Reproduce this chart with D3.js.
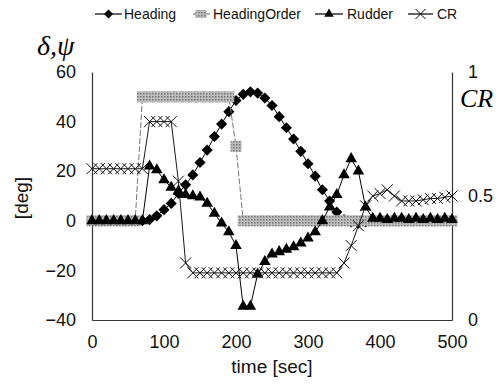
<!DOCTYPE html>
<html>
<head>
<meta charset="utf-8">
<script src="https://cdn.jsdelivr.net/npm/d3@7"></script>
<style>
  body { margin: 0; background: #fff; }
</style>
</head>
<body>
<script>
// time samples [sec]
const time = [0, 10, 20, 30, 40, 50, 60, 70, 80, 90,
  100, 110, 120, 130, 140, 150, 160, 170, 180, 190,
  200, 210, 220, 230, 240, 250, 260, 270, 280, 290,
  300, 310, 320, 330, 340, 350, 360, 370, 380, 390,
  400, 410, 420, 430, 440, 450, 460, 470, 480, 490, 500];

// heading [deg]
const heading = [0, 0, 0, 0, 0, 0, 0, 0, 0.5, 2,
  4.5, 7, 11, 14.5, 18.5, 23.5, 28.5, 34, 39, 44,
  48.5, 51, 52, 51.5, 49.5, 46.5, 42, 37.5, 33, 28,
  23, 18, 12.5, 8, 3.5, 0.5, -0.5, -1, -0.5, 0,
  0, 0, 0, 0, 0, 0, 0, 0, 0, 0, 0];

// heading order [deg]
const headingOrder = [0, 0, 0, 0, 0, 0, 0, 50, 50, 50,
  50, 50, 50, 50, 50, 50, 50, 50, 50, 50,
  30, 0, 0, 0, 0, 0, 0, 0, 0, 0,
  0, 0, 0, 0, 0, 0, 0, 0, 0, 0,
  0, 0, 0, 0, 0, 0, 0, 0, 0, 0, 0];

// rudder [deg]
const rudder = [0, 0, 0, 0, 0, 0, 0, 0, 22, 20.5,
  16.5, 13.5, 12, 10.5, 10, 9.5, 7, 3, -1, -4.5,
  -10, -34.5, -34.5, -21.5, -16.5, -13.5, -12.5, -11.5, -10.5, -9,
  -7, -4.5, 0, 5.5, 10.5, 18.5, 25, 20, 5.5, 1,
  1, 0.5, 1, 1, 0.5, 1, 0.5, 1, 0.5, 1, 0.5];

// CR (right axis, 0..1)
const cr = [0.61, 0.61, 0.61, 0.61, 0.61, 0.61, 0.61, 0.61, 0.8, 0.8,
  0.8, 0.8, 0.56, 0.23, 0.19, 0.19, 0.19, 0.19, 0.19, 0.19,
  0.19, 0.19, 0.19, 0.19, 0.19, 0.19, 0.19, 0.19, 0.19, 0.19,
  0.19, 0.19, 0.19, 0.19, 0.19, 0.23, 0.3, 0.38, 0.46, 0.5,
  0.51, 0.525, 0.5, 0.48, 0.48, 0.48, 0.485, 0.49, 0.49, 0.495, 0.5];

const xTicks = [0, 100, 200, 300, 400, 500];
const yTicks = [-40, -20, 0, 20, 40, 60];
const crTicks = [0, 0.5, 1];

const W = 501, H = 387;
const sans = "'Liberation Sans', Arial, sans-serif";
const serif = "'Liberation Serif', 'Times New Roman', serif";
let margin = {top: 72, right: 49, bottom: 67, left: 92};
let width = W - margin.left - margin.right,
    height = H - margin.top - margin.bottom;

let svg = d3.select("body").append("svg")
    .attr("width", W)
    .attr("height", H)
    .style("font-family", sans);

// hatched gray fill used by the HeadingOrder markers
let pat = svg.append("defs").append("pattern")
    .attr("id", "hatch")
    .attr("width", 3).attr("height", 3)
    .attr("patternUnits", "userSpaceOnUse");
pat.append("rect").attr("width", 3).attr("height", 3).attr("fill", "#bdbdbd");
pat.append("rect").attr("width", 1.5).attr("height", 1.5).attr("fill", "#737373");

let g = svg.append("g")
    .attr("transform", "translate(" + margin.left + "," + margin.top + ")");

let x = d3.scaleLinear().domain([0, 500]).range([0, width]);
let y = d3.scaleLinear().domain([-40, 60]).range([height, 0]);
let yR = d3.scaleLinear().domain([0, 1]).range([height, 0]);

// axes
let xAxis = g.append("g")
    .attr("transform", "translate(0," + height + ")")
    .call(d3.axisBottom(x).tickValues(xTicks).tickSize(0).tickPadding(15));
let yAxis = g.append("g")
    .call(d3.axisLeft(y).tickValues(yTicks).tickSize(0).tickPadding(16));
let rAxis = g.append("g")
    .attr("transform", "translate(" + width + ",0)")
    .call(d3.axisRight(yR).tickValues(crTicks).tickFormat(d3.format("")).tickSize(0).tickPadding(16));

[xAxis, yAxis, rAxis].forEach(a => {
  a.select(".domain").attr("stroke", "#333").attr("stroke-width", 1.2);
  a.selectAll("text").attr("fill", "#111")
    .style("font-size", "18px").style("font-family", sans);
});

const pts = (vals, scale) => time.map((t, i) => [x(t), scale(vals[i])]);
let line = d3.line();

// Heading
g.append("path")
    .attr("d", line(pts(heading, y)))
    .attr("fill", "none").attr("stroke", "#000").attr("stroke-width", 1);
g.selectAll(".hd")
    .data(pts(heading, y))
    .enter().append("path")
    .attr("d", d3.symbol(d3.symbolSquare, 62)())
    .attr("transform", d => "translate(" + d[0] + "," + d[1] + ") rotate(45)")
    .attr("fill", "#000");

// HeadingOrder
g.append("path")
    .attr("d", line(pts(headingOrder, y)))
    .attr("fill", "none").attr("stroke", "#777").attr("stroke-width", 1)
    .attr("stroke-dasharray", "6,2");
g.selectAll(".ho")
    .data(pts(headingOrder, y))
    .enter().append("rect")
    .attr("x", d => d[0] - 5.5).attr("y", d => d[1] - 5.5)
    .attr("width", 11).attr("height", 11)
    .attr("fill", "url(#hatch)");

// Rudder
g.append("path")
    .attr("d", line(pts(rudder, y)))
    .attr("fill", "none").attr("stroke", "#000").attr("stroke-width", 1);
g.selectAll(".rd")
    .data(pts(rudder, y))
    .enter().append("path")
    .attr("d", d3.symbol(d3.symbolTriangle, 58)())
    .attr("transform", d => "translate(" + d[0] + "," + d[1] + ")")
    .attr("fill", "#000");

// CR
const crossPath = "M-5.5,-5.5L5.5,5.5M-5.5,5.5L5.5,-5.5";
g.append("path")
    .attr("d", line(pts(cr, yR)))
    .attr("fill", "none").attr("stroke", "#000").attr("stroke-width", 0.9);
g.selectAll(".cr")
    .data(pts(cr, yR))
    .enter().append("path")
    .attr("d", crossPath)
    .attr("transform", d => "translate(" + d[0] + "," + d[1] + ")")
    .attr("fill", "none").attr("stroke", "#111").attr("stroke-width", 1);

// axis titles
svg.append("text")
    .attr("x", margin.left + width / 2).attr("y", 373)
    .attr("text-anchor", "middle")
    .attr("fill", "#111")
    .style("font-size", "19px")
    .text("time [sec]");
svg.append("text")
    .attr("transform", "translate(28,198) rotate(-90)")
    .attr("text-anchor", "middle")
    .attr("fill", "#111")
    .style("font-size", "19px")
    .text("[deg]");
svg.append("text")
    .attr("x", 37).attr("y", 55)
    .attr("fill", "#000")
    .style("font-family", serif).style("font-style", "italic")
    .style("font-size", "28px")
    .text("δ,ψ");
svg.append("text")
    .attr("x", 460).attr("y", 107)
    .attr("fill", "#000")
    .style("font-family", serif).style("font-style", "italic")
    .style("font-size", "26px")
    .text("CR");

// legend
const legend = [
  {name: "Heading", x0: 95, x1: 122, tx: 124},
  {name: "HeadingOrder", x0: 193, x1: 210, tx: 213},
  {name: "Rudder", x0: 315, x1: 343, tx: 347},
  {name: "CR", x0: 408, x1: 433, tx: 437}
];
const ly = 14;
let lg = svg.append("g");
legend.forEach((d, i) => {
  lg.append("line")
    .attr("x1", d.x0).attr("x2", d.x1).attr("y1", ly).attr("y2", ly)
    .attr("stroke", i === 1 ? "#777" : "#000").attr("stroke-width", 1.2);
  let cx = (d.x0 + d.x1) / 2;
  if (i === 0) {
    lg.append("path").attr("d", d3.symbol(d3.symbolSquare, 42)())
      .attr("transform", "translate(" + cx + "," + ly + ") rotate(45)").attr("fill", "#000");
  } else if (i === 1) {
    lg.append("rect").attr("x", cx - 6).attr("y", ly - 4)
      .attr("width", 11).attr("height", 8).attr("fill", "url(#hatch)");
  } else if (i === 2) {
    lg.append("path").attr("d", d3.symbol(d3.symbolTriangle, 40)())
      .attr("transform", "translate(" + cx + "," + ly + ")").attr("fill", "#000");
  } else {
    lg.append("path").attr("d", "M-5,-5L5,5M-5,5L5,-5")
      .attr("transform", "translate(" + cx + "," + ly + ")")
      .attr("fill", "none").attr("stroke", "#000").attr("stroke-width", 1);
  }
  lg.append("text")
    .attr("x", d.tx).attr("y", ly + 5)
    .attr("fill", "#111")
    .style("font-size", "14px")
    .text(d.name);
});
</script>
</body>
</html>
